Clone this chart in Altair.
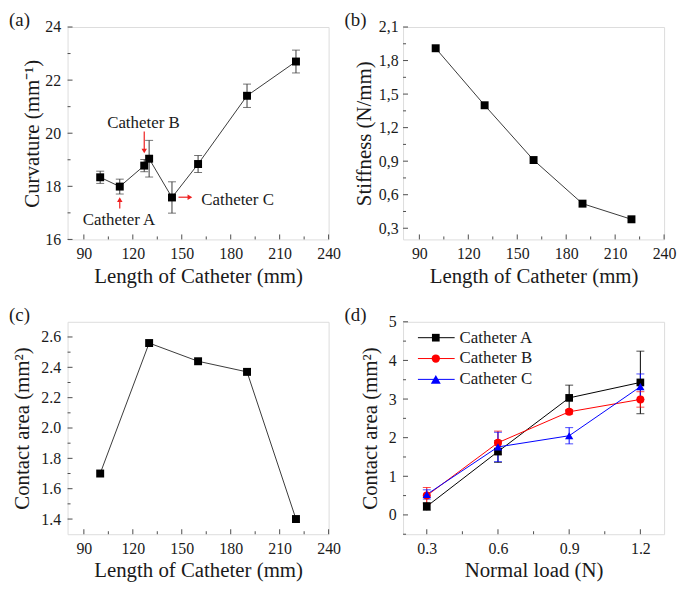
import altair as alt
import pandas as pd

# ---------------- data ----------------
# (a) curvature vs catheter length
a_len = [100, 112, 127, 130, 144, 160, 190, 220]
a_curv = [18.34, 17.99, 18.78, 19.04, 17.58, 18.84, 21.41, 22.70]
a_err = [0.23, 0.28, 0.23, 0.69, 0.59, 0.32, 0.44, 0.43]

ann_labels = ["Catheter A", "Catheter B", "Catheter C"]
ann_x = [111.5, 126.5, 162.0]
ann_y = [16.72, 20.37, 17.49]
arrow_x1 = [112, 127, 148]
arrow_y1 = [17.16, 20.06, 17.59]
arrow_x2 = [112, 127, 155]
arrow_y2 = [17.50, 19.33, 17.59]
arrow_head = ["triangle-up", "triangle-down", "triangle-right"]

# (b) stiffness
b_len = [100, 130, 160, 190, 220]
b_stiff = [1.91, 1.40, 0.91, 0.52, 0.38]

# (c) contact area vs length
c_len = [100, 130, 160, 190, 220]
c_area = [1.70, 2.56, 2.44, 2.37, 1.40]

# (d) contact area vs normal load
d_load = [0.3, 0.6, 0.9, 1.2]
d_names = ["Catheter A", "Catheter B", "Catheter C"]
d_vals = {
    "Catheter A": [0.22, 1.64, 3.03, 3.43],
    "Catheter B": [0.50, 1.87, 2.67, 2.99],
    "Catheter C": [0.53, 1.76, 2.05, 3.32],
}
d_errs = {
    "Catheter A": [0.10, 0.28, 0.33, 0.81],
    "Catheter B": [0.21, 0.30, 0.06, 0.20],
    "Catheter C": [0.12, 0.38, 0.21, 0.33],
}
d_colors = ["#000000", "#ff0000", "#0000ff"]
d_shapes = ["square", "circle", "triangle-up"]
d_sizes = [60, 70, 100]

len_major = [90, 120, 150, 180, 210, 240]
len_minor = [105, 135, 165, 195, 225]

# ---------------- style ----------------
FONT = "Liberation Serif"
INK = "#1a1a1a"
FRAME = "#4d4d4d"
LINE = "#3a3a3a"
W, H = 263, 214


def make_axis(values, label_expr=None, title_pad=8, label_pad=7):
    kw = dict(values=values, ticks=False, domain=False, grid=False,
              labelFont=FONT, labelFontSize=16, labelColor=INK,
              titleFont=FONT, titleFontSize=21, titleFontWeight="normal",
              titleColor=INK, labelPadding=label_pad, titlePadding=title_pad,
              labelOverlap=False, labelFlush=False)
    if label_expr:
        kw["labelExpr"] = label_expr
    return alt.Axis(**kw)


def encoders(xdom, ydom, xvals, yvals, xtitle, ytitle, xexpr=None, yexpr=None,
             ytp=8, ylp=7):
    xa = make_axis(xvals, xexpr, title_pad=4, label_pad=6)
    ya = make_axis(yvals, yexpr, title_pad=ytp, label_pad=ylp)
    xs = alt.Scale(domain=xdom, nice=False, zero=False)
    ys = alt.Scale(domain=ydom, nice=False, zero=False)

    def X(f):
        return alt.X(f, type="quantitative", scale=xs, axis=xa, title=xtitle)

    def Y(f):
        return alt.Y(f, type="quantitative", scale=ys, axis=ya, title=ytitle)
    return X, Y


def tick_layers(X, Y, xmaj, xmin, ymaj, ymin):
    layers = []
    for vals, L in ((xmaj, 5), (xmin, 3)):
        df = pd.DataFrame({"v": vals})
        layers.append(alt.Chart(df).mark_rule(color=FRAME, strokeWidth=1).encode(
            x=X("v"), y=alt.value(H), y2=alt.value(H - L)))
    for vals, L in ((ymaj, 5), (ymin, 3)):
        df = pd.DataFrame({"v": vals})
        layers.append(alt.Chart(df).mark_rule(color=FRAME, strokeWidth=1).encode(
            y=Y("v"), x=alt.value(0), x2=alt.value(L)))
    return layers


def tag_layer(t):
    return alt.Chart(pd.DataFrame({"t": [t]})).mark_text(
        font=FONT, fontSize=19, color=INK, align="left", baseline="top"
    ).encode(text="t:N", x=alt.value(-59), y=alt.value(-16))


def simple_series(X, Y, xs, ys):
    df = pd.DataFrame({"x": xs, "y": ys})
    line = alt.Chart(df).mark_line(color=LINE, strokeWidth=1).encode(x=X("x"), y=Y("y"))
    pts = alt.Chart(df).mark_square(size=64, color="#000", opacity=1).encode(x=X("x"), y=Y("y"))
    return [line, pts]


# ---------------- panel (a) ----------------
Xa, Ya = encoders([80, 240], [16, 24], len_major, [16, 18, 20, 22, 24],
                  "Length of Catheter (mm)", "Curvature (mm\u207b\u00b9)", ytp=2)
dfa = pd.DataFrame({"x": a_len, "y": a_curv,
                    "lo": [v - e for v, e in zip(a_curv, a_err)],
                    "hi": [v + e for v, e in zip(a_curv, a_err)]})
a_line = alt.Chart(dfa).mark_line(color=LINE, strokeWidth=1).encode(x=Xa("x"), y=Ya("y"))
a_err_r = alt.Chart(dfa).mark_rule(color=LINE, strokeWidth=1).encode(
    x=Xa("x"), y=Ya("lo"), y2=alt.Y2("hi"))
a_cap_lo = alt.Chart(dfa).mark_tick(orient="horizontal", size=8, thickness=1, color=LINE).encode(
    x=Xa("x"), y=Ya("lo"))
a_cap_hi = alt.Chart(dfa).mark_tick(orient="horizontal", size=8, thickness=1, color=LINE).encode(
    x=Xa("x"), y=Ya("hi"))
a_pts = alt.Chart(dfa).mark_square(size=64, color="#000", opacity=1).encode(x=Xa("x"), y=Ya("y"))

dfarr = pd.DataFrame({"x1": arrow_x1, "y1": arrow_y1, "x2": arrow_x2, "y2": arrow_y2,
                      "s": arrow_head})
a_shaft = alt.Chart(dfarr).mark_rule(color="#ee2020", strokeWidth=1.2).encode(
    x=Xa("x1"), x2=alt.X2("x2"), y=Ya("y1"), y2=alt.Y2("y2"))
a_head = alt.Chart(dfarr).mark_point(filled=True, color="#ee2020", size=30, opacity=1).encode(
    x=Xa("x2"), y=Ya("y2"), shape=alt.Shape("s:N", scale=None))
dfann = pd.DataFrame({"t": ann_labels, "x": ann_x, "y": ann_y})
a_txt_c = alt.Chart(dfann.iloc[:2]).mark_text(font=FONT, fontSize=17, color=INK,
                                               align="center", baseline="middle").encode(
    x=Xa("x"), y=Ya("y"), text="t:N")
a_txt_l = alt.Chart(dfann.iloc[2:]).mark_text(font=FONT, fontSize=17, color=INK,
                                               align="left", baseline="middle").encode(
    x=Xa("x"), y=Ya("y"), text="t:N")

panel_a = alt.layer(
    *tick_layers(Xa, Ya, len_major, len_minor, [16, 18, 20, 22, 24], [17, 19, 21, 23]),
    a_line, a_err_r, a_cap_lo, a_cap_hi, a_pts, a_shaft, a_head, a_txt_c, a_txt_l,
    tag_layer("(a)")
).properties(width=W, height=H)

# ---------------- panel (b) ----------------
b_major = [0.3, 0.6, 0.9, 1.2, 1.5, 1.8, 2.1]
b_minor = [0.45, 0.75, 1.05, 1.35, 1.65, 1.95]
Xb, Yb = encoders([80, 240], [0.2, 2.1], len_major, b_major,
                  "Length of Catheter (mm)", "Stiffness (N/mm)",
                  yexpr="replace(format(datum.value, '.1f'), '.', ',')", ytp=4, ylp=5)
panel_b = alt.layer(
    *tick_layers(Xb, Yb, len_major, len_minor, b_major, b_minor),
    *simple_series(Xb, Yb, b_len, b_stiff),
    tag_layer("(b)")
).properties(width=W, height=H)

# ---------------- panel (c) ----------------
c_major = [1.4, 1.6, 1.8, 2.0, 2.2, 2.4, 2.6]
c_minor = [1.5, 1.7, 1.9, 2.1, 2.3, 2.5]
Xc, Yc = encoders([80, 240], [1.3, 2.7], len_major, c_major,
                  "Length of Catheter (mm)", "Contact area (mm\u00b2)",
                  yexpr="format(datum.value, '.1f')")
panel_c = alt.layer(
    *tick_layers(Xc, Yc, len_major, len_minor, c_major, c_minor),
    *simple_series(Xc, Yc, c_len, c_area),
    tag_layer("(c)")
).properties(width=W, height=H)

# ---------------- panel (d) ----------------
dx_major = [0.3, 0.6, 0.9, 1.2]
dx_minor = [0.45, 0.75, 1.05]
dy_major = [0, 1, 2, 3, 4, 5]
dy_minor = [-0.5, 0.5, 1.5, 2.5, 3.5, 4.5]
Xd, Yd = encoders([0.2, 1.3], [-0.5, 5], dx_major, dy_major,
                  "Normal load (N)", "Contact area (mm\u00b2)",
                  xexpr="format(datum.value, '.1f')")
rows = []
for name in d_names:
    for ld, v, e in zip(d_load, d_vals[name], d_errs[name]):
        rows.append({"s": name, "x": ld, "y": v, "lo": v - e, "hi": v + e})
dfd = pd.DataFrame(rows)
col = alt.Color("s:N", scale=alt.Scale(domain=d_names, range=d_colors), legend=None)
shp = alt.Shape("s:N", scale=alt.Scale(domain=d_names, range=d_shapes), legend=None)
siz = alt.Size("s:N", scale=alt.Scale(domain=d_names, range=d_sizes), legend=None)
d_lines = alt.Chart(dfd).mark_line(strokeWidth=1).encode(
    x=Xd("x"), y=Yd("y"), color=col, detail="s:N")
d_err = alt.Chart(dfd).mark_rule(strokeWidth=1).encode(
    x=Xd("x"), y=Yd("lo"), y2=alt.Y2("hi"), color=col)
d_cap_lo = alt.Chart(dfd).mark_tick(orient="horizontal", size=8, thickness=1).encode(
    x=Xd("x"), y=Yd("lo"), color=col)
d_cap_hi = alt.Chart(dfd).mark_tick(orient="horizontal", size=8, thickness=1).encode(
    x=Xd("x"), y=Yd("hi"), color=col)
d_pts = alt.Chart(dfd).mark_point(filled=True, opacity=1).encode(
    x=Xd("x"), y=Yd("y"), color=col, shape=shp, size=siz)

legend_layers = []
for i, (name, c, s, sz) in enumerate(zip(d_names, d_colors, d_shapes, d_sizes)):
    yy = 16 + 21 * i
    ldf = pd.DataFrame({"s": [name]})
    legend_layers.append(alt.Chart(ldf).mark_rule(color=c, strokeWidth=1).encode(
        x=alt.value(15), x2=alt.value(52), y=alt.value(yy)))
    legend_layers.append(alt.Chart(ldf).mark_point(shape=s, filled=True, size=sz, color=c,
                                                   opacity=1).encode(
        x=alt.value(33), y=alt.value(yy)))
    legend_layers.append(alt.Chart(ldf).mark_text(font=FONT, fontSize=17, color=INK,
                                                  align="left", baseline="middle").encode(
        x=alt.value(57), y=alt.value(yy), text="s:N"))

panel_d = alt.layer(
    *tick_layers(Xd, Yd, dx_major, dx_minor, dy_major, dy_minor),
    d_lines, d_err, d_cap_lo, d_cap_hi, d_pts, *legend_layers,
    tag_layer("(d)")
).properties(width=W, height=H)

chart = alt.concat(panel_a, panel_b, panel_c, panel_d, columns=2,
                   spacing={"row": 18, "column": 2}).properties(
    padding=0
).configure_view(stroke=FRAME, strokeWidth=1).configure(font=FONT)

chart.save("out.html", embed_options={"renderer": "svg", "actions": False})
